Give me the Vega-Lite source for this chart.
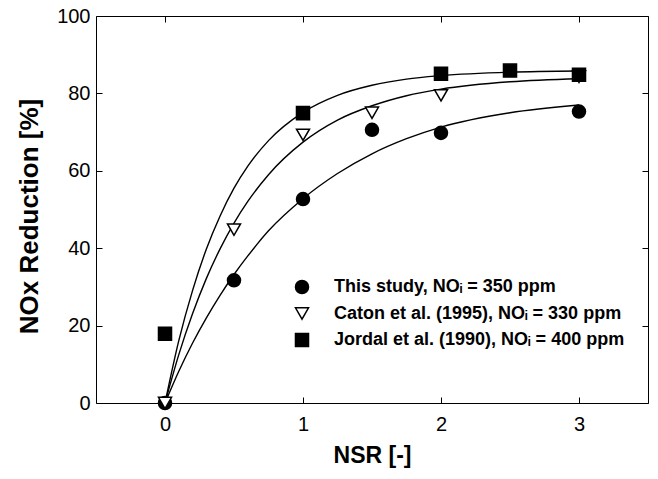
{
  "$schema": "https://vega.github.io/schema/vega-lite/v6.json",
  "width": 552,
  "height": 387,
  "autosize": {"type": "none"},
  "padding": {"left": 96, "top": 16, "right": 10, "bottom": 76},
  "background": "white",
  "config": {
    "view": {"stroke": "black", "strokeWidth": 1},
    "font": "Liberation Sans",
    "axis": {"grid": false, "domain": false, "tickColor": "black", "tickWidth": 1, "labelColor": "black", "titleColor": "black", "labelFont": "Liberation Sans", "titleFont": "Liberation Sans"},
    "legend": {"orient": "none", "legendX": 197, "legendY": 262, "title": null, "padding": 0, "labelFont": "Liberation Sans", "labelFontWeight": "bold", "labelFontSize": 18, "labelColor": "black", "symbolSize": 170, "symbolStrokeWidth": 1.5, "labelOffset": 23, "rowPadding": 7.5, "labelLimit": 400}
  },
  "datasets": {
    "points": [
      {"series": "This study, NOᵢ = 350 ppm", "nsr": 0, "red": 0},
      {"series": "This study, NOᵢ = 350 ppm", "nsr": 0.5, "red": 31.7},
      {"series": "This study, NOᵢ = 350 ppm", "nsr": 1, "red": 52.7},
      {"series": "This study, NOᵢ = 350 ppm", "nsr": 1.5, "red": 70.6},
      {"series": "This study, NOᵢ = 350 ppm", "nsr": 2, "red": 69.8},
      {"series": "This study, NOᵢ = 350 ppm", "nsr": 3, "red": 75.3},
      {"series": "Caton et al. (1995), NOᵢ = 330 ppm", "nsr": 0, "red": 0},
      {"series": "Caton et al. (1995), NOᵢ = 330 ppm", "nsr": 0.5, "red": 44.8},
      {"series": "Caton et al. (1995), NOᵢ = 330 ppm", "nsr": 1, "red": 69.3},
      {"series": "Caton et al. (1995), NOᵢ = 330 ppm", "nsr": 1.5, "red": 75},
      {"series": "Caton et al. (1995), NOᵢ = 330 ppm", "nsr": 2, "red": 79.5},
      {"series": "Caton et al. (1995), NOᵢ = 330 ppm", "nsr": 3, "red": 84.3},
      {"series": "Jordal et al. (1990), NOᵢ = 400 ppm", "nsr": 0, "red": 17.9},
      {"series": "Jordal et al. (1990), NOᵢ = 400 ppm", "nsr": 1, "red": 74.9},
      {"series": "Jordal et al. (1990), NOᵢ = 400 ppm", "nsr": 2, "red": 85.1},
      {"series": "Jordal et al. (1990), NOᵢ = 400 ppm", "nsr": 2.5, "red": 85.9},
      {"series": "Jordal et al. (1990), NOᵢ = 400 ppm", "nsr": 3, "red": 84.8}
    ],
    "curves": [
      {"curve": "this", "nsr": 0, "red": 0},
      {"curve": "this", "nsr": 0.1, "red": 8.2},
      {"curve": "this", "nsr": 0.2, "red": 15.5},
      {"curve": "this", "nsr": 0.3, "red": 22},
      {"curve": "this", "nsr": 0.4, "red": 27.9},
      {"curve": "this", "nsr": 0.5, "red": 33.2},
      {"curve": "this", "nsr": 0.6, "red": 38},
      {"curve": "this", "nsr": 0.75, "red": 44.5},
      {"curve": "this", "nsr": 1, "red": 52.8},
      {"curve": "this", "nsr": 1.25, "red": 59.3},
      {"curve": "this", "nsr": 1.5, "red": 64.4},
      {"curve": "this", "nsr": 1.75, "red": 68.3},
      {"curve": "this", "nsr": 2, "red": 71.3},
      {"curve": "this", "nsr": 2.5, "red": 75},
      {"curve": "this", "nsr": 3, "red": 77},
      {"curve": "caton", "nsr": 0, "red": 0},
      {"curve": "caton", "nsr": 0.1, "red": 12.5},
      {"curve": "caton", "nsr": 0.2, "red": 23.1},
      {"curve": "caton", "nsr": 0.3, "red": 32.2},
      {"curve": "caton", "nsr": 0.4, "red": 39.9},
      {"curve": "caton", "nsr": 0.5, "red": 46.5},
      {"curve": "caton", "nsr": 0.6, "red": 52.1},
      {"curve": "caton", "nsr": 0.75, "red": 59},
      {"curve": "caton", "nsr": 1, "red": 67.4},
      {"curve": "caton", "nsr": 1.25, "red": 73.1},
      {"curve": "caton", "nsr": 1.5, "red": 76.8},
      {"curve": "caton", "nsr": 1.75, "red": 79.4},
      {"curve": "caton", "nsr": 2, "red": 81.1},
      {"curve": "caton", "nsr": 2.5, "red": 83},
      {"curve": "caton", "nsr": 3, "red": 83.8},
      {"curve": "jordal", "nsr": 0, "red": 0},
      {"curve": "jordal", "nsr": 0.1, "red": 16.1},
      {"curve": "jordal", "nsr": 0.2, "red": 29.1},
      {"curve": "jordal", "nsr": 0.3, "red": 39.8},
      {"curve": "jordal", "nsr": 0.4, "red": 48.4},
      {"curve": "jordal", "nsr": 0.5, "red": 55.5},
      {"curve": "jordal", "nsr": 0.6, "red": 61.2},
      {"curve": "jordal", "nsr": 0.75, "red": 67.8},
      {"curve": "jordal", "nsr": 1, "red": 75.1},
      {"curve": "jordal", "nsr": 1.25, "red": 79.5},
      {"curve": "jordal", "nsr": 1.5, "red": 82.1},
      {"curve": "jordal", "nsr": 1.75, "red": 83.7},
      {"curve": "jordal", "nsr": 2, "red": 84.6},
      {"curve": "jordal", "nsr": 2.5, "red": 85.5},
      {"curve": "jordal", "nsr": 3, "red": 85.8}
    ]
  },
  "layer": [
    {
      "data": {"name": "curves"},
      "mark": {"type": "line", "interpolate": "monotone", "color": "black", "strokeWidth": 1.4},
      "encoding": {
        "x": {"field": "nsr", "type": "quantitative", "scale": {"domain": [-0.5, 3.5], "nice": false, "zero": false},
          "axis": {"orient": "bottom", "values": [0, 1, 2, 3], "tickSize": -6, "labelFontSize": 20, "labelPadding": 17, "title": "NSR [-]", "titleFontSize": 23, "titleFontWeight": "bold", "titlePadding": 10}},
        "y": {"field": "red", "type": "quantitative", "scale": {"domain": [0, 100], "nice": false, "zero": false},
          "axis": {"orient": "left", "values": [0, 20, 40, 60, 80, 100], "tickSize": -6, "labelFontSize": 20, "labelPadding": 12, "title": "NOx Reduction [%]", "titleFontSize": 26, "titleFontWeight": "bold", "titlePadding": 14, "titleY": 200}},
        "detail": {"field": "curve"}
      }
    },
    {
      "data": {"name": "points"},
      "mark": {"type": "point", "filled": true, "opacity": 1, "strokeWidth": 1.5, "size": 170},
      "encoding": {
        "x": {"field": "nsr", "type": "quantitative", "scale": {"domain": [-0.5, 3.5], "nice": false, "zero": false},
          "axis": {"orient": "top", "values": [0, 1, 2, 3], "tickSize": -6, "labels": false, "title": null}},
        "y": {"field": "red", "type": "quantitative", "scale": {"domain": [0, 100], "nice": false, "zero": false},
          "axis": {"orient": "right", "values": [0, 20, 40, 60, 80, 100], "tickSize": -6, "labels": false, "title": null}},
        "shape": {"field": "series", "type": "nominal",
          "scale": {"domain": ["This study, NOᵢ = 350 ppm", "Caton et al. (1995), NOᵢ = 330 ppm", "Jordal et al. (1990), NOᵢ = 400 ppm"], "range": ["circle", "triangle-down", "square"]}},
        "fill": {"field": "series", "type": "nominal",
          "scale": {"domain": ["This study, NOᵢ = 350 ppm", "Caton et al. (1995), NOᵢ = 330 ppm", "Jordal et al. (1990), NOᵢ = 400 ppm"], "range": ["black", "white", "black"]}},
        "stroke": {"field": "series", "type": "nominal",
          "scale": {"domain": ["This study, NOᵢ = 350 ppm", "Caton et al. (1995), NOᵢ = 330 ppm", "Jordal et al. (1990), NOᵢ = 400 ppm"], "range": ["black", "black", "black"]}}
      }
    }
  ],
  "resolve": {"axis": {"x": "independent", "y": "independent"}}
}
